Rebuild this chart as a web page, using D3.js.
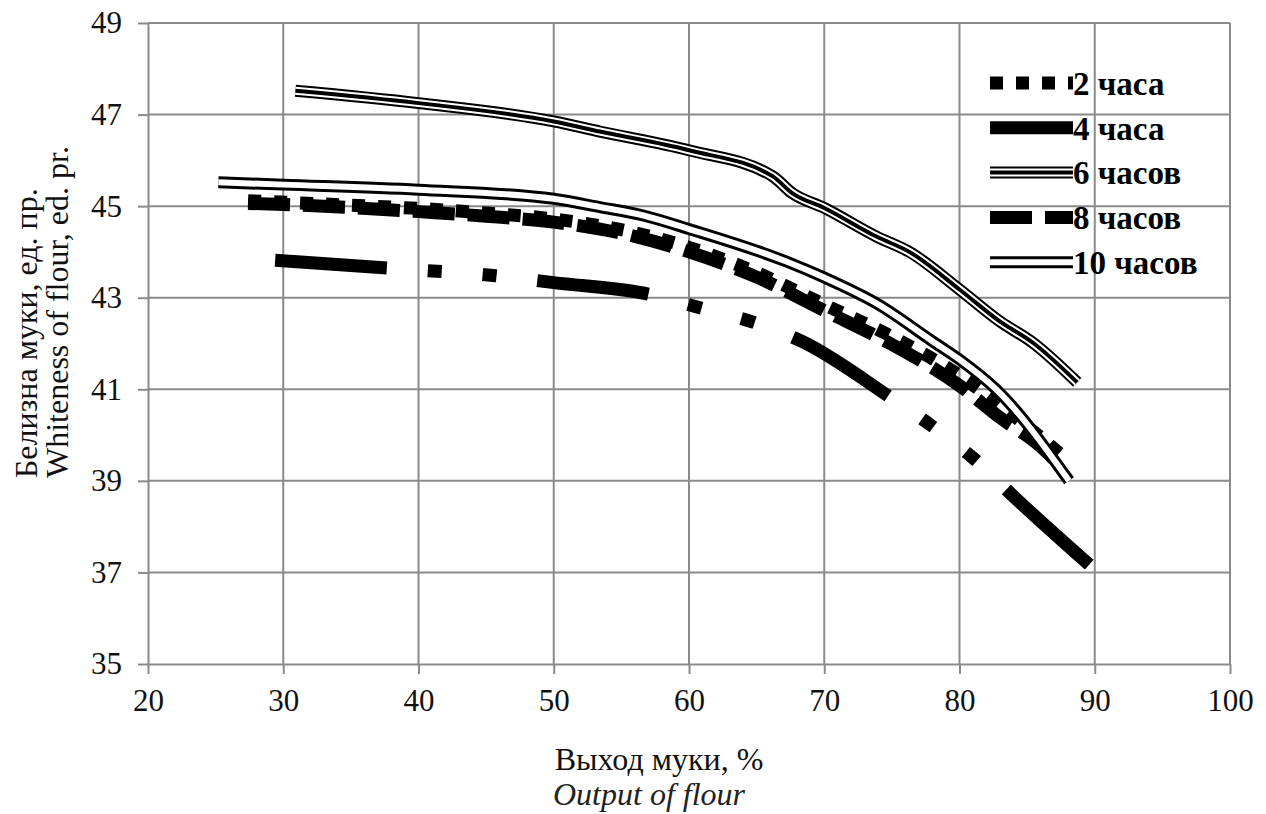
<html>
<head>
	<meta charset="UTF-8">
	<script src="https://cdn.jsdelivr.net/npm/d3@7"></script>
	<style>
		body { margin: 0; background: white; }
		.grid line { stroke: #8a8a8a; stroke-width: 2; }
		.axis path, .axis line { stroke: #8a8a8a; stroke-width: 2; }
	</style>
</head>
<body>

<div id="chart"></div>

<script type="text/javascript">
// values: output of flour (%) and whiteness
var out2 = [27.4, 35, 40, 45, 50, 56, 60, 65, 70, 75, 80, 83, 86, 87.6];
var white2 = [45.12, 45.02, 44.95, 44.85, 44.72, 44.42, 44.1, 43.55, 42.85, 42.15, 41.3, 40.65, 39.95, 39.55];

var out4 = [29.4, 38, 45.7, 50, 57, 60.8, 64.8, 68.4, 74.9, 78, 81.2, 84, 89.7];
var white4 = [43.82, 43.64, 43.48, 43.33, 43.08, 42.78, 42.46, 42.04, 40.82, 40.19, 39.45, 38.66, 37.14];

var out6 = [30.9, 40, 50, 53.4, 60, 66.2, 67.6, 70, 73.9, 76.3, 80, 82.9, 85.5, 88.7];
var white6 = [47.52, 47.25, 46.85, 46.63, 46.22, 45.65, 45.29, 44.96, 44.33, 44.0, 43.18, 42.5, 42.0, 41.15];

var out8 = [27.4, 35, 40, 45, 50, 56, 60, 65, 70, 75, 80, 83, 86, 87.2];
var white8 = [45.06, 44.97, 44.88, 44.78, 44.65, 44.34, 44.0, 43.45, 42.72, 41.98, 41.08, 40.38, 39.75, 39.4];

var out10 = [25.2, 30, 40, 50, 53.4, 56.7, 60, 67.2, 70, 73.9, 78, 80, 82.7, 88.1];
var white10 = [45.52, 45.47, 45.36, 45.16, 44.98, 44.79, 44.5, 43.79, 43.44, 42.87, 42.05, 41.65, 41.0, 39.0];

var seriesNames = ["2 часа", "4 часа", "6 часов", "8 часов", "10 часов"];
var xTicks = [20, 30, 40, 50, 60, 70, 80, 90, 100];
var yTicks = [35, 37, 39, 41, 43, 45, 47, 49];

(function(d3) {
	var W = 1266, H = 814;
	var margin = {left: 148, right: 36, top: 23, bottom: 150};
	var serif = "'Liberation Serif', 'Times New Roman', serif";

	var vis = d3.select("#chart").append("svg")
		.attr("width", W).attr("height", H)
		.style("display", "block");

	var x = d3.scaleLinear().domain([20, 100]).range([margin.left, W - margin.right]);
	var y = d3.scaleLinear().domain([35, 49]).range([H - margin.bottom, margin.top]);

	// grid
	var grid = vis.append("g").attr("class", "grid");
	grid.selectAll("line.v")
		.data(xTicks.slice(1)).enter()
		.append("line")
		.attr("x1", function(d) { return x(d); })
		.attr("x2", function(d) { return x(d); })
		.attr("y1", y(35)).attr("y2", y(49));
	grid.selectAll("line.h")
		.data(yTicks.slice(1)).enter()
		.append("line")
		.attr("x1", x(20)).attr("x2", x(100))
		.attr("y1", function(d) { return y(d); })
		.attr("y2", function(d) { return y(d); });

	// axes
	var gx = vis.append("g").attr("class", "axis")
		.attr("transform", "translate(0," + y(35) + ")")
		.call(d3.axisBottom(x).tickValues(xTicks).tickSize(10).tickSizeOuter(0).tickPadding(15));
	var gy = vis.append("g").attr("class", "axis")
		.attr("transform", "translate(" + x(20) + ",0)")
		.call(d3.axisLeft(y).tickValues(yTicks).tickSize(10).tickSizeOuter(0).tickPadding(16));
	[gx, gy].forEach(function(g) {
		g.attr("font-family", serif).attr("font-size", 31);
		g.selectAll("text").attr("fill", "#111");
	});

	var line = d3.line()
		.x(function(d) { return x(d[0]); })
		.y(function(d) { return y(d[1]); })
		.curve(d3.curveMonotoneX);

	function pairs(xs, ys) { return xs.map(function(v, i) { return [v, ys[i]]; }); }

	// stroke layers for each series (drawn in order, last one on top)
	var styles = [
		[{c: "#000", w: 13, dash: "13 13"}],
		[{c: "#000", w: 13, dash: "112 41 14 41 14 41"}],
		[{c: "#000", w: 12}, {c: "#fff", w: 8}, {c: "#000", w: 4}],
		[{c: "#000", w: 13, dash: "42 13"}],
		[{c: "#000", w: 12}, {c: "#fff", w: 6}]
	];
	var data = [pairs(out2, white2), pairs(out4, white4), pairs(out6, white6), pairs(out8, white8), pairs(out10, white10)];

	data.forEach(function(pts, si) {
		styles[si].forEach(function(s) {
			vis.append("path")
				.attr("d", line(pts))
				.attr("fill", "none")
				.attr("stroke", s.c)
				.attr("stroke-width", s.w)
				.attr("stroke-dasharray", s.dash || null)
				.attr("stroke-linejoin", "round");
		});
	});

	// legend
	var lg = vis.append("g");
	seriesNames.forEach(function(name, si) {
		var ly = 83 + si * 44.8;
		styles[si].forEach(function(s) {
			lg.append("line")
				.attr("x1", 990).attr("x2", 1073)
				.attr("y1", ly).attr("y2", ly)
				.attr("stroke", s.c)
				.attr("stroke-width", s.w)
				.attr("stroke-dasharray", s.dash || null);
		});
		lg.append("text")
			.attr("x", 1073).attr("y", ly)
			.attr("dy", "0.36em")
			.attr("font-family", serif)
			.attr("font-size", 33)
			.attr("font-weight", "bold")
			.text(name);
	});

	// axis titles
	vis.append("text")
		.attr("x", 659).attr("y", 770)
		.attr("text-anchor", "middle")
		.attr("font-family", serif).attr("font-size", 32).attr("fill", "#111")
		.text("Выход муки, %");
	vis.append("text")
		.attr("x", 649).attr("y", 805)
		.attr("text-anchor", "middle")
		.attr("font-family", serif).attr("font-size", 32).attr("fill", "#222")
		.style("font-style", "italic")
		.text("Output of flour");

	var yt = vis.append("text")
		.attr("font-family", serif).attr("font-size", 32).attr("fill", "#111")
		.attr("transform", "translate(37,478) rotate(-90)");
	yt.append("tspan").attr("x", 0).attr("y", 0).text("Белизна муки, ед. пр.");
	yt.append("tspan").attr("x", 0).attr("y", 31).text("Whiteness of flour, ed. pr.");
})(window.d3);
</script>
</body>
</html>
